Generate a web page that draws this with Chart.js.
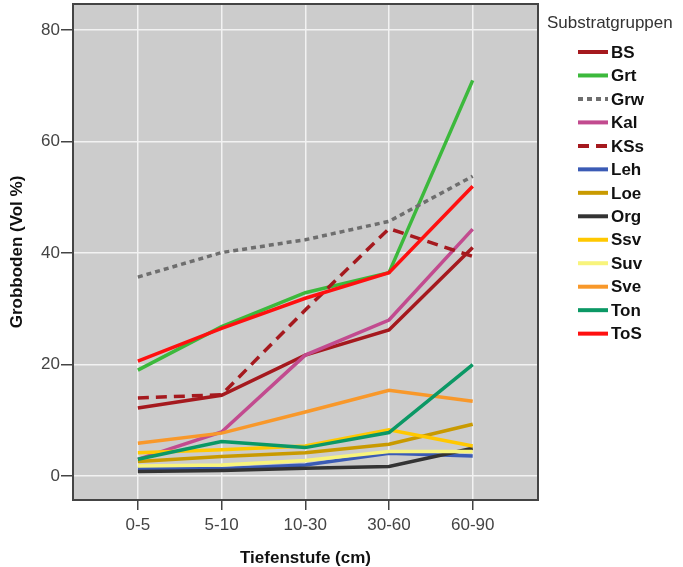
<!DOCTYPE html>
<html>
<head>
<meta charset="utf-8">
<script src="https://cdn.jsdelivr.net/npm/chart.js@4.4.0/dist/chart.umd.min.js"></script>
<style>
  html, body { margin: 0; padding: 0; background: #fff; }
  #wrap { width: 683px; height: 567px; }
</style>
</head>
<body>
<div id="wrap"><canvas id="myChart" width="683" height="567"></canvas></div>
<script>
// data block
var depths = ['0-5', '5-10', '10-30', '30-60', '60-90'];
var groups = ['BS', 'Grt', 'Grw', 'Kal', 'KSs', 'Leh', 'Loe', 'Org', 'Ssv', 'Suv', 'Sve', 'Ton', 'ToS'];
var yTicks = [0, 20, 40, 60, 80];

var BS  = [12.2, 14.5, 21.7, 26.2, 41.0];
var Grt = [19.0, 26.8, 32.9, 36.5, 71.0];
var Grw = [35.7, 40.1, 42.4, 45.7, 53.8];
var Kal = [3.0, 7.9, 21.7, 28.0, 44.3];
var KSs = [14.0, 14.6, 29.8, 44.4, 39.4];
var Leh = [1.4, 1.3, 2.0, 4.1, 3.6];
var Loe = [2.6, 3.5, 4.2, 5.7, 9.3];
var Org = [0.8, 1.0, 1.4, 1.7, 5.0];
var Ssv = [4.2, 4.7, 5.4, 8.3, 5.4];
var Suv = [1.8, 2.0, 2.8, 4.4, 4.4];
var Sve = [5.9, 7.7, 11.5, 15.4, 13.4];
var Ton = [3.0, 6.2, 5.1, 7.8, 20.0];
var ToS = [20.6, 26.5, 31.9, 36.5, 52.0];

var values = [BS, Grt, Grw, Kal, KSs, Leh, Loe, Org, Ssv, Suv, Sve, Ton, ToS];
var colors = ['#a5191e', '#3cb93c', '#6e6e6e', '#c24b8f', '#a5191e', '#3b5bb5', '#c99a00',
              '#333333', '#ffc800', '#f8f47c', '#f8982a', '#0b9865', '#ff1010'];
var dashes = { Grw: [5, 4], KSs: [11, 7] };

var FONT = "'Liberation Sans', Arial, sans-serif";

// helpers
function toPoints(arr) {
    return arr.map(function (v, i) { return { x: i, y: v }; });
}

var datasets = groups.map(function (g, i) {
    return {
        label: g,
        data: toPoints(values[i]),
        borderColor: colors[i],
        backgroundColor: colors[i],
        borderWidth: 3.5,
        borderDash: dashes[g] || [],
        pointRadius: 0,
        tension: 0,
        order: groups.length - i // later series on top
    };
});

// plot background + frame
var plotFrame = {
    id: 'plotFrame',
    beforeDraw: function (chart) {
        var a = chart.chartArea, ctx = chart.ctx;
        ctx.save();
        ctx.fillStyle = '#cccccc';
        ctx.fillRect(a.left, a.top, a.right - a.left, a.bottom - a.top);
        ctx.restore();
    },
    afterDraw: function (chart) {
        var a = chart.chartArea, ctx = chart.ctx;
        ctx.save();
        ctx.strokeStyle = '#444444';
        ctx.lineWidth = 2;
        ctx.strokeRect(a.left, a.top, a.right - a.left, a.bottom - a.top);
        ctx.restore();
    }
};

// legend on the right, drawn from the datasets
var sideLegend = {
    id: 'sideLegend',
    afterDraw: function (chart) {
        var ctx = chart.ctx;
        ctx.save();
        ctx.textBaseline = 'middle';
        ctx.textAlign = 'left';
        ctx.fillStyle = '#333333';
        ctx.font = '17px ' + FONT;
        ctx.fillText('Substratgruppen', 547, 23);
        ctx.font = 'bold 17px ' + FONT;
        chart.data.datasets.forEach(function (ds, i) {
            var y = 52 + i * 23.47;
            ctx.strokeStyle = ds.borderColor;
            ctx.lineWidth = 4;
            ctx.setLineDash(ds.borderDash);
            ctx.beginPath();
            ctx.moveTo(578, y);
            ctx.lineTo(608, y);
            ctx.stroke();
            ctx.setLineDash([]);
            ctx.fillStyle = '#111111';
            ctx.fillText(ds.label, 611, y + 1);
        });
        ctx.restore();
    }
};

var myCrt = document.getElementById('myChart');
var grobChart = new Chart(myCrt, {
    type: 'line',
    data: { datasets: datasets },
    options: {
        responsive: false,
        animation: false,
        layout: { padding: { top: 4, right: 145, left: 0, bottom: 0 } },
        plugins: {
            legend: { display: false },
            tooltip: { enabled: false }
        },
        scales: {
            x: {
                type: 'linear',
                min: -0.775,
                max: 4.78,
                afterBuildTicks: function (scale) {
                    scale.ticks = depths.map(function (d, i) { return { value: i }; });
                },
                afterFit: function (scale) {
                    scale.height = 67;
                    scale.paddingLeft = 0;
                    scale.paddingRight = 0;
                },
                ticks: {
                    callback: function (v) { return depths[v]; },
                    color: '#444444',
                    font: { family: FONT, size: 17 },
                    padding: 5,
                    maxRotation: 0
                },
                grid: {
                    color: '#f2f2f2',
                    lineWidth: 1.5,
                    tickColor: '#444444',
                    tickLength: 10
                },
                border: { display: false },
                title: {
                    display: true,
                    text: 'Tiefenstufe (cm)',
                    color: '#111111',
                    font: { family: FONT, size: 17, weight: 'bold' },
                    padding: { top: 0, bottom: -2 }
                }
            },
            y: {
                min: -4.3,
                max: 84.7,
                afterBuildTicks: function (scale) {
                    scale.ticks = yTicks.map(function (v) { return { value: v }; });
                },
                afterFit: function (scale) {
                    scale.width = 73;
                    scale.paddingTop = 0;
                    scale.paddingBottom = 0;
                },
                ticks: {
                    color: '#444444',
                    font: { family: FONT, size: 17 },
                    padding: 1
                },
                grid: {
                    color: '#f2f2f2',
                    lineWidth: 1.5,
                    tickColor: '#444444',
                    tickLength: 12
                },
                border: { display: false },
                title: {
                    display: true,
                    text: 'Grobboden (Vol %)',
                    color: '#111111',
                    font: { family: FONT, size: 17, weight: 'bold' },
                    padding: { top: 7, bottom: 0 }
                }
            }
        }
    },
    plugins: [plotFrame, sideLegend]
});
</script>
</body>
</html>
